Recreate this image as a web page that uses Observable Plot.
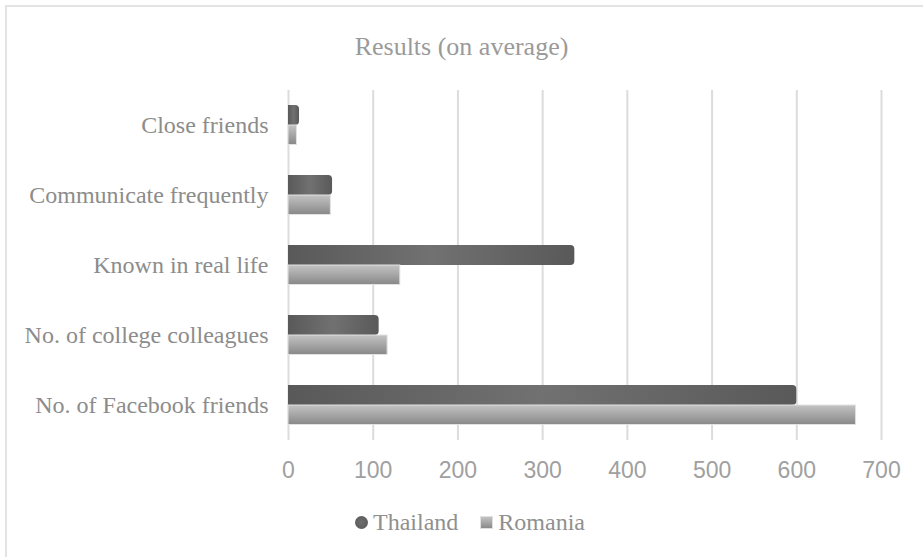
<!DOCTYPE html>
<html>
<head>
<meta charset="utf-8">
<script src="https://cdn.jsdelivr.net/npm/d3@7"></script>
<script src="https://cdn.jsdelivr.net/npm/@observablehq/plot@0.6"></script>
<style>
  html, body { margin: 0; padding: 0; background: #fff; }
  #wrap { position: relative; width: 923px; height: 557px; overflow: hidden; background: #fff; }
  #frame { position: absolute; left: 5px; top: 5px; width: 1000px; height: 1000px; border-left: 2px solid #e3e3e3; border-top: 2px solid #e3e3e3; }
  #title { position: absolute; left: 0; top: 32px; width: 923px; text-align: center; font-family: "Liberation Serif", serif; font-size: 26px; line-height: 30px; color: #9a9a9a; }
  #chart { position: absolute; left: 0; top: 0; }
  #legend { position: absolute; left: 355px; top: 508px; font-family: "Liberation Serif", serif; font-size: 24px; line-height: 28px; color: #8f8f8f; display: flex; align-items: center; }
  .sw { display: inline-block; margin-right: 5px; }
  .dot { width: 13px; height: 13px; border-radius: 50%; background: radial-gradient(circle at 50% 50%, #6e6e6e, #575757); }
  .sq { width: 11px; height: 11px; background: linear-gradient(#c2c2c2, #8a8a8a); border: 1px solid #e0e0e0; margin-left: 22px; }
</style>
</head>
<body>
<div id="wrap">
  <div id="frame"></div>
  <div id="chart"></div>
  <div id="title">Results (on average)</div>
  <div id="legend"><span class="sw dot"></span><span>Thailand</span><span class="sw sq"></span><span>Romania</span></div>
</div>
<script>
const categories = ["Close friends", "Communicate frequently", "Known in real life", "No. of college colleagues", "No. of Facebook friends"];
const seriesNames = ["Thailand", "Romania"];
const thailand = [13, 52, 338, 107, 600];
const romania = [10, 50, 132, 117, 670];
const xTicks = [0, 100, 200, 300, 400, 500, 600, 700];

const thaiData = categories.map((c, i) => ({category: c, series: seriesNames[0], value: thailand[i]}));
const romData = categories.map((c, i) => ({category: c, series: seriesNames[1], value: romania[i]}));

const chart = Plot.plot({
  width: 923,
  height: 557,
  marginTop: 90,
  marginBottom: 117,
  marginLeft: 288,
  marginRight: 42,
  style: {background: "transparent", overflow: "visible"},
  x: {domain: [0, 700], axis: null, label: null},
  y: {domain: categories, paddingInner: 3 / 7, paddingOuter: 3 / 14, axis: null, label: null},
  marks: [
    Plot.gridX(xTicks, {stroke: "#dcdcdc", strokeOpacity: 1, strokeWidth: 2}),
    Plot.axisX(xTicks, {anchor: "bottom", label: null, tickSize: 0, tickPadding: 21, fontSize: 23, fontFamily: "Liberation Sans, Arial, sans-serif", color: "#a0a0a0"}),
    Plot.axisY(categories, {anchor: "left", label: null, tickSize: 0, tickPadding: 20, fontSize: 24, fontFamily: "Liberation Serif, serif", color: "#8c8c8c"}),
    Plot.barX(thaiData, {x: "value", y: "category", insetBottom: 20, fill: "url(#gradThai)", rx2: 4}),
    Plot.barX(romData, {x: "value", y: "category", insetTop: 20, insetBottom: 0.5, fill: "url(#gradRom)", stroke: "#e2e2e2", strokeWidth: 1})
  ]
});

const svg = d3.select(chart);
const defs = svg.insert("defs", ":first-child");
const gT = defs.append("linearGradient").attr("id", "gradThai").attr("x1", 0).attr("x2", 1).attr("y1", 0).attr("y2", 0);
gT.append("stop").attr("offset", "0%").attr("stop-color", "#595959");
gT.append("stop").attr("offset", "50%").attr("stop-color", "#717171");
gT.append("stop").attr("offset", "100%").attr("stop-color", "#595959");
const gR = defs.append("linearGradient").attr("id", "gradRom").attr("x1", 0).attr("x2", 0).attr("y1", 0).attr("y2", 1);
gR.append("stop").attr("offset", "0%").attr("stop-color", "#c3c3c3");
gR.append("stop").attr("offset", "100%").attr("stop-color", "#888888");

document.getElementById("chart").appendChild(chart);
</script>
</body>
</html>
